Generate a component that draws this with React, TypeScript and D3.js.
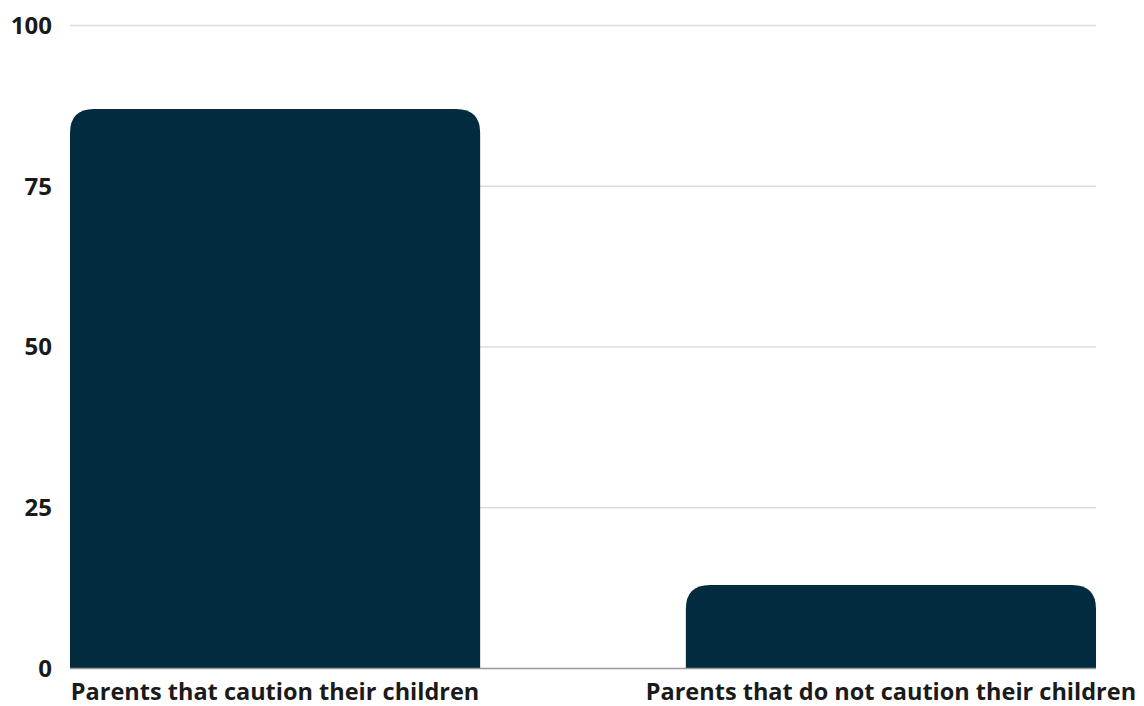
import React from "react";
import * as d3 from "d3";

const categories = ["Parents that caution their children", "Parents that do not caution their children"];
const values = [87, 13];
const yTicks = [0, 25, 50, 75, 100];

const W = 1144;
const H = 706;
const left = 70;
const right = 1096;
const top = 25.5;
const bottom = 668.5;
const R = 24;

function topRoundedRect(x: number, y: number, w: number, h: number, r: number) {
  const rr = Math.min(r, w / 2, h);
  return `M${x},${y + h}V${y + rr}Q${x},${y} ${x + rr},${y}H${x + w - rr}Q${x + w},${y} ${x + w},${y + rr}V${y + h}Z`;
}

export default function App() {
  const x = d3.scaleBand<string>().domain(categories).range([left, right]).paddingInner(0.334).paddingOuter(0);
  const y = d3.scaleLinear().domain([0, 100]).range([bottom, top]);
  const font = "'Open Sans', sans-serif";
  return (
    <svg width={W} height={H} style={{ position: "absolute", left: 0, top: 0, background: "#fff" }}>
      {yTicks.map((t) => (
        <g key={t}>
          {t !== 0 && (
            <line x1={left} x2={right} y1={y(t)} y2={y(t)} stroke="#dddddd" strokeWidth={1.5} />
          )}
          <text x={52} y={y(t)} dy="0.35em" textAnchor="end" fontFamily={font} fontWeight={700} fontSize={24} fill="#1a1a1a">
            {t}
          </text>
        </g>
      ))}
      {categories.map((c, i) => {
        const bx = x(c)!;
        const bw = x.bandwidth();
        const by = y(values[i]);
        return (
          <path key={c} d={topRoundedRect(bx, by, bw, bottom - by, R)} fill="#022b40" />
        );
      })}
      <line x1={left} x2={right} y1={bottom} y2={bottom} stroke="#999999" strokeWidth={1.5} />
      {categories.map((c) => (
        <text key={c} x={x(c)! + x.bandwidth() / 2} y={700} textAnchor="middle" fontFamily={font} fontWeight={700} fontSize={23.5} fill="#1a1a1a">
          {c}
        </text>
      ))}
    </svg>
  );
}
